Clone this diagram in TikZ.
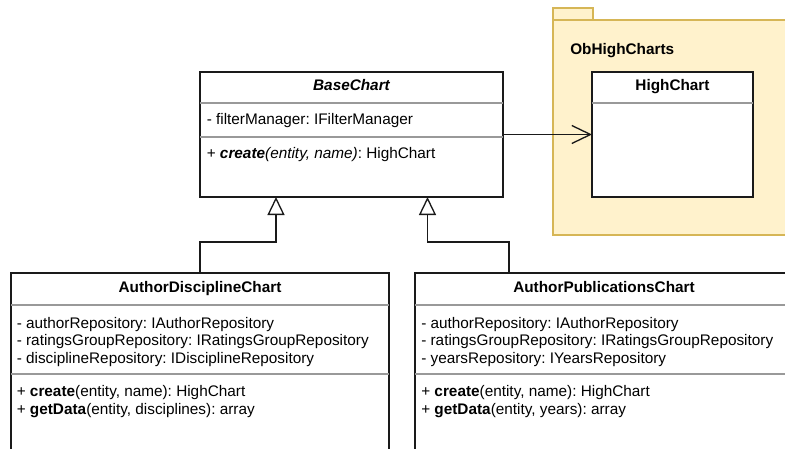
\documentclass[tikz,border=0pt]{standalone}
\usepackage{fontspec}
\setmainfont{Liberation Sans}
\usetikzlibrary{arrows.meta}
\frenchspacing
\definecolor{pkgfill}{HTML}{FFF2CC}
\definecolor{pkgdraw}{HTML}{D6B656}
\definecolor{sepgray}{HTML}{999999}
\definecolor{boxline}{HTML}{1A1A1A}
\tikzset{
  umlbox/.style={draw=boxline, line width=1pt, fill=white, anchor=north west, inner sep=0pt, outer sep=0pt},
  sepline/.style={draw=sepgray, line width=1.1pt},
  txt/.style={anchor=base west, inner sep=0pt, font=\fontsize{11.5}{13}\selectfont},
  ttl/.style={anchor=base, inner sep=0pt, font=\fontsize{11.5}{13}\selectfont\bfseries},
  inh/.style={draw=boxline, line width=1pt, -{Triangle[open, length=13.5pt, width=12.75pt, line width=1pt]}},
  assoc/.style={draw=boxline, line width=1pt, -{Straight Barb[length=14pt, width=13.5pt, line width=1pt]}},
  pkg/.style={draw=pkgdraw, fill=pkgfill, line width=1pt}
}
\begin{document}
\begin{tikzpicture}[x=0.75pt,y=-0.75pt]
\useasboundingbox (0,0) rectangle (785,449);
\clip (0,0) rectangle (785,449);
% package
\draw[pkg] (553,8) rectangle (593,20);
\draw[pkg] (553,20) rectangle (800,235);
\node[txt, font=\fontsize{11.5}{13}\selectfont\bfseries] (pkglabel) at (570,55) {ObHighCharts};

% BaseChart
\node[umlbox, minimum width=303*0.75pt, minimum height=125*0.75pt] (base) at (200,72) {};
\draw[sepline] (200,103) -- (503,103);
\draw[sepline] (200,137) -- (503,137);
\node[ttl, font=\fontsize{11.5}{13}\selectfont\bfseries\itshape] (baset) at (351.5,91) {BaseChart};
\node[txt] (basea) at (206.5,125) {- filterManager: IFilterManager};
\node[txt] (basem) at (206.5,159) {+ \textbf{\textit{create}}\textit{(entity, name)}: HighChart};

% HighChart
\node[umlbox, minimum width=161*0.75pt, minimum height=125*0.75pt] (hc) at (592,72) {};
\draw[sepline] (592,103) -- (753,103);
\node[ttl] (hct) at (672.5,91) {HighChart};

% AuthorDisciplineChart
\node[umlbox, minimum width=378*0.75pt, minimum height=200*0.75pt] (adc) at (11,273) {};
\draw[sepline] (11,305) -- (389,305);
\draw[sepline] (11,374) -- (389,374);
\node[ttl] (adct) at (200,292.5) {AuthorDisciplineChart};
\node[txt] (adca1) at (16.5,328) {- authorRepository: IAuthorRepository};
\node[txt] (adca2) at (16.5,345.5) {- ratingsGroupRepository: IRatingsGroupRepository};
\node[txt] (adca3) at (16.5,363) {- disciplineRepository: IDisciplineRepository};
\node[txt] (adcm1) at (16.5,396.5) {+ \textbf{create}(entity, name): HighChart};
\node[txt] (adcm2) at (16.5,414) {+ \textbf{getData}(entity, disciplines): array};

% AuthorPublicationsChart
\node[umlbox, minimum width=378*0.75pt, minimum height=200*0.75pt] (apc) at (415,273) {};
\draw[sepline] (415,305) -- (793,305);
\draw[sepline] (415,374) -- (793,374);
\node[ttl] (apct) at (604,292.5) {AuthorPublicationsChart};
\node[txt] (apca1) at (421,328) {- authorRepository: IAuthorRepository};
\node[txt] (apca2) at (421,345.5) {- ratingsGroupRepository: IRatingsGroupRepository};
\node[txt] (apca3) at (421,363) {- yearsRepository: IYearsRepository};
\node[txt] (apcm1) at (421,396.5) {+ \textbf{create}(entity, name): HighChart};
\node[txt] (apcm2) at (421,414) {+ \textbf{getData}(entity, years): array};

% connectors
\coordinate (t1) at (276,197);
\coordinate (t2) at (427.5,197);
\draw[inh] (adc.north) -- ++(0,-31) -| (t1);
\draw[inh] ([xshift=94*0.75pt]apc.north west) -- ++(0,-31) -| (t2);
\draw[assoc] (base.east) -- (hc.west);
\end{tikzpicture}
\end{document}
